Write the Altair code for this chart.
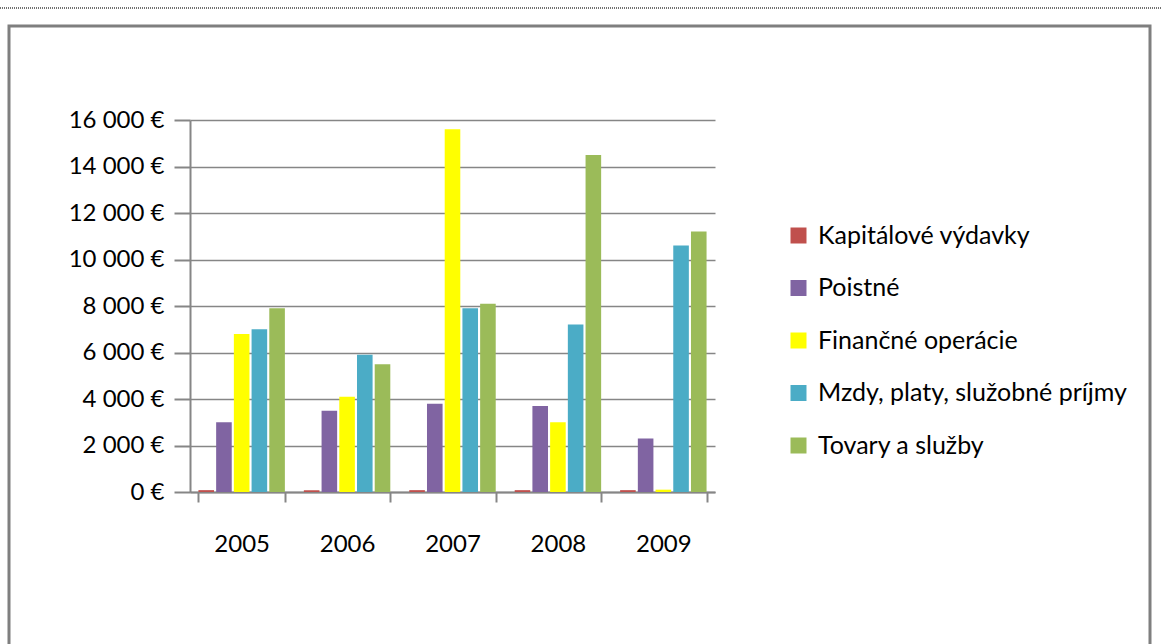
import altair as alt
import pandas as pd

years = ["2005", "2006", "2007", "2008", "2009"]
series = ["Kapitálové výdavky", "Poistné", "Finančné operácie",
          "Mzdy, platy, služobné príjmy", "Tovary a služby"]
colors = ["#C0504D", "#8064A2", "#FFFF00", "#4BACC6", "#9BBB59"]

kapitalove = [80, 80, 80, 80, 80]
poistne = [3000, 3500, 3800, 3700, 2300]
financne = [6800, 4100, 15600, 3000, 100]
mzdy = [7000, 5900, 7900, 7200, 10600]
tovary = [7900, 5500, 8100, 14500, 11200]

y_ticks = [0, 2000, 4000, 6000, 8000, 10000, 12000, 14000, 16000]

rows = []
for s, vals in zip(series, [kapitalove, poistne, financne, mzdy, tovary]):
    for yr, v in zip(years, vals):
        rows.append({"rok": yr, "seria": s, "hodnota": v})
df = pd.DataFrame(rows)

grey = "#868686"

bars = alt.Chart(df).mark_bar().encode(
    x=alt.X("rok:N", sort=years,
            scale=alt.Scale(paddingInner=0.18, paddingOuter=0.08),
            axis=alt.Axis(title=None, labelAngle=0, labelFontSize=24,
                          labelColor="#000000", labelPadding=30,
                          domainColor=grey, domainWidth=2,
                          tickColor=grey, tickSize=10, tickWidth=2,
                          tickBand="extent")),
    xOffset=alt.XOffset("seria:N", sort=series,
                        scale=alt.Scale(paddingInner=0.12)),
    y=alt.Y("hodnota:Q", scale=alt.Scale(domain=[0, 16000], nice=False),
            axis=alt.Axis(title=None, values=y_ticks,
                          labelExpr="replace(format(datum.value, ',d'), ',', ' ') + ' €'",
                          labelFontSize=24, labelColor="#000000",
                          labelPadding=10, tickSize=16, tickColor=grey,
                          tickWidth=2, domainColor=grey, domainWidth=2,
                          gridColor=grey, gridWidth=1.5)),
    color=alt.Color("seria:N", sort=series,
                    scale=alt.Scale(domain=series, range=colors),
                    legend=alt.Legend(title=None, orient="none",
                                      legendX=596, legendY=103,
                                      symbolType="square", symbolSize=256,
                                      symbolStrokeWidth=0,
                                      labelFontSize=25, labelColor="#000000",
                                      labelLimit=0,
                                      labelOffset=7, rowPadding=26.5)),
)

frame = alt.Chart(pd.DataFrame({"a": [0]})).mark_rect(
    filled=False, stroke="#7f7f7f", strokeWidth=3
).encode(x=alt.value(-181), x2=alt.value(960),
         y=alt.value(-94), y2=alt.value(560))

dotted = alt.Chart(pd.DataFrame({"a": [0]})).mark_rule(
    color="#444444", strokeDash=[1, 1], strokeWidth=1.5
).encode(x=alt.value(-190), x2=alt.value(972), y=alt.value(-112))

chart = alt.layer(frame, dotted, bars).properties(
    width=525, height=372,
    autosize=alt.AutoSizeParams(type="none"),
    padding={"left": 190, "top": 120, "right": 447, "bottom": 152},
).configure(font="Lato").configure_view(strokeWidth=0)

chart.save("out.html", embed_options={"renderer": "svg", "actions": False})
